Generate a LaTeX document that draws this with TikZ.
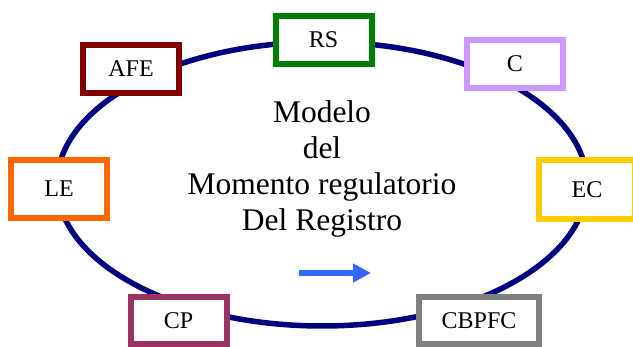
\documentclass[tikz,border=0pt]{standalone}
\usepackage{fontspec}
\setmainfont{Liberation Serif}
\usetikzlibrary{arrows.meta}
\definecolor{ringblue}{RGB}{0,0,128}
\definecolor{rsgreen}{RGB}{0,128,0}
\definecolor{afered}{RGB}{128,0,0}
\definecolor{clilac}{RGB}{204,153,255}
\definecolor{leorange}{RGB}{255,102,0}
\definecolor{ecgold}{RGB}{255,204,0}
\definecolor{cpplum}{RGB}{153,51,102}
\definecolor{cbgray}{RGB}{128,128,128}
\definecolor{arrowblue}{RGB}{51,102,255}

\begin{document}
\begin{tikzpicture}
		[x=1pt, y=-1pt,
		 stage/.style={rectangle, draw, fill=white, line width=6pt, minimum width=96pt, minimum height=48pt, inner sep=0pt, font=\fontsize{24}{28}\selectfont}]
		\useasboundingbox (0,0) rectangle (633,347);
		\draw[ringblue, line width=5.5pt] (322,184) ellipse [x radius=265pt, y radius=142pt];

		\node[stage, draw=afered] (afe) at (131,69) {AFE};
		\node[stage, draw=rsgreen] (rs) at (323.5,40) {RS};
		\node[stage, draw=clilac] (c) at (515,64) {C};
		\node[stage, draw=leorange, minimum height=58pt] (le) at (59,189) {LE};
		\node[stage, draw=ecgold, minimum height=59pt] (ec) at (587,189.5) {EC};
		\node[stage, draw=cpplum, minimum height=47pt] (cp) at (178.5,320.5) {CP};
		\node[stage, draw=cbgray, minimum width=120pt, minimum height=47pt] (cbpfc) at (479,320.5) {CBPFC};

		\node[align=center, inner sep=0pt, font=\fontsize{31.5}{36}\selectfont] (title) at (322,169)
			{Modelo\\del\\Momento regulatorio\\Del Registro};

		\coordinate (from) at (299,273);
		\coordinate (to) at (371,273);
		\draw[arrowblue, line width=6pt, -{Triangle[length=18pt, width=18pt]}] (from) -- (to);
	\end{tikzpicture}
\end{document}
